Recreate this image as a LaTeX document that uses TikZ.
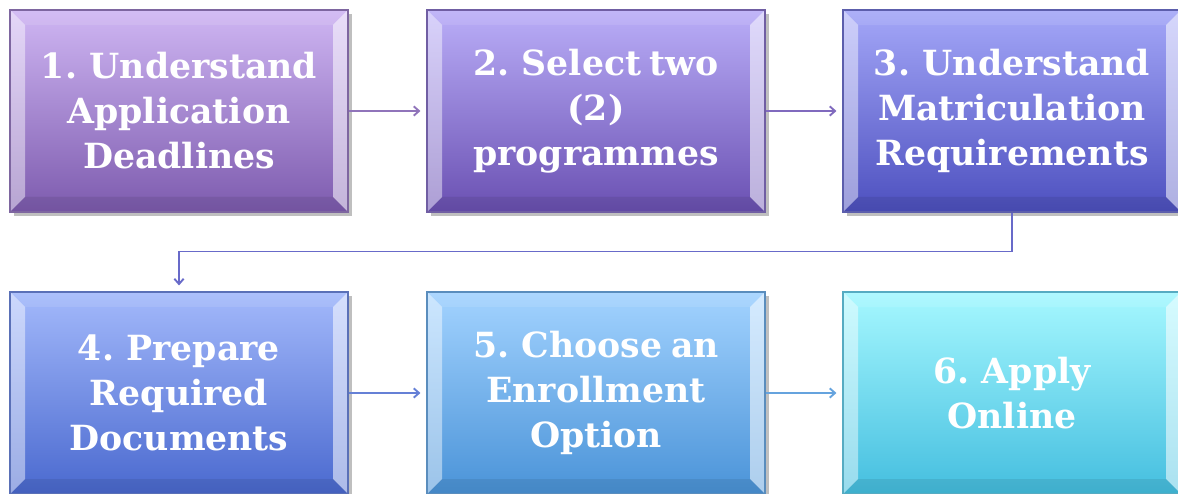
\documentclass[tikz,border=0pt]{standalone}
\usepackage{fontspec}
\setmainfont[WordSpace=0.7]{DejaVu Serif}
\usetikzlibrary{calc,shadows,arrows.meta}

% box colours (top / bottom)
\definecolor{oneT}{HTML}{CFB6F3}
\definecolor{oneB}{HTML}{7D5BAE}
\definecolor{twoT}{HTML}{BAAEF8}
\definecolor{twoB}{HTML}{6A50B2}
\definecolor{threeT}{HTML}{A4A7F8}
\definecolor{threeB}{HTML}{4D50BF}
\definecolor{fourT}{HTML}{A3B9FB}
\definecolor{fourB}{HTML}{4A69CF}
\definecolor{fiveT}{HTML}{A3D3FF}
\definecolor{fiveB}{HTML}{4A93D8}
\definecolor{sixT}{HTML}{A6F8FF}
\definecolor{sixB}{HTML}{44BEDF}
\newcommand\bevw{15}

\begin{document}
\begin{tikzpicture}[x=0.75pt,y=0.75pt,>={Straight Barb[length=4pt,width=7pt]},
	stepbox/.style 2 args={rectangle,minimum width=253.5pt,minimum height=151.5pt,
		top color=#1,bottom color=#2,draw=#2!70!gray,line width=0.8pt,
		drop shadow={shadow xshift=3pt,shadow yshift=-3pt,opacity=.25,fill=black},
		text=white,align=center,font=\fontsize{26}{33.75}\selectfont\bfseries,
		path picture={
			\coordinate (sw) at (path picture bounding box.south west);
			\coordinate (ne) at (path picture bounding box.north east);
			\fill[white,fill opacity=.45] (sw) -- ($(sw)+(\bevw,\bevw)$) -- ($(sw|-ne)+(\bevw,-\bevw)$) -- (sw|-ne) -- cycle;
			\fill[white,fill opacity=.55] (ne|-sw) -- ($(ne|-sw)+(-\bevw,\bevw)$) -- ($(ne)+(-\bevw,-\bevw)$) -- (ne) -- cycle;
			\fill[white,fill opacity=.1] (sw|-ne) -- ($(sw|-ne)+(\bevw,-\bevw)$) -- ($(ne)+(-\bevw,-\bevw)$) -- (ne) -- cycle;
			\fill[black,fill opacity=.08] (sw) -- ($(sw)+(\bevw,\bevw)$) -- ($(ne|-sw)+(-\bevw,\bevw)$) -- (ne|-sw) -- cycle;
		}},
	flow/.style={->,line width=1.4pt,draw=#1,shorten >=4.5pt}]

	\useasboundingbox (0,0) rectangle (1178,493);

	% first row
	\node[stepbox={oneT}{oneB}] (deadlines) at (179,382) {1. Understand\\Application\\Deadlines};
	\node[stepbox={twoT}{twoB}] (programmes) at (596,382) {2. Select two\\(2)\\programmes};
	\node[stepbox={threeT}{threeB}] (matric) at (1012,382) {3. Understand\\Matriculation\\Requirements};

	% second row
	\node[stepbox={fourT}{fourB}] (documents) at (179,100) {4. Prepare\\Required\\Documents};
	\node[stepbox={fiveT}{fiveB}] (enrollment) at (596,100) {5. Choose an\\Enrollment\\Option};
	\node[stepbox={sixT}{sixB}] (apply) at (1012,100) {6. Apply\\Online};

	% arrows
	\draw[flow=oneB!85] (deadlines) -- (programmes);
	\draw[flow=twoB!85] (programmes) -- (matric);
	\draw[flow=threeB!85] (matric.south) -- ++(0,-39) -| (documents.north);
	\draw[flow=fourB!85] (documents) -- (enrollment);
	\draw[flow=fiveB!85] (enrollment) -- (apply);
\end{tikzpicture}
\end{document}
